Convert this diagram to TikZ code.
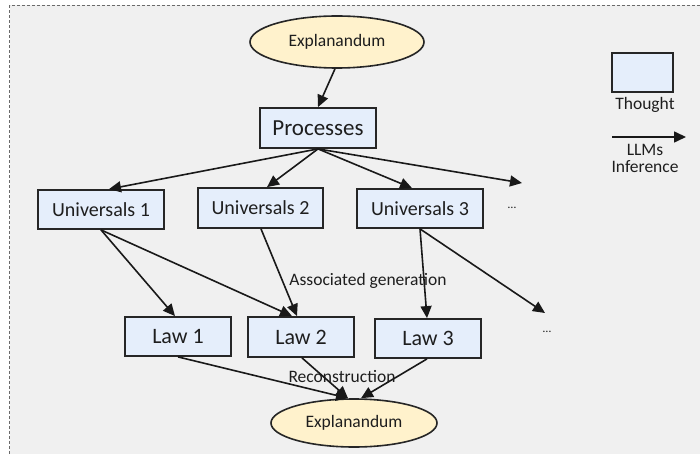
\documentclass[tikz,border=0pt]{standalone}
\usepackage{fontspec}
\setmainfont{Carlito}
\usetikzlibrary{arrows.meta,shapes.geometric}
\definecolor{bgc}{HTML}{F0F0F0}
\definecolor{boxc}{HTML}{E5EEFB}
\definecolor{ellc}{HTML}{FFF2CC}
\definecolor{txtc}{HTML}{1E1E1E}
\definecolor{framec}{HTML}{6A6A6A}
\tikzset{
  thought/.style={draw=black!85, line width=1.8pt, fill=boxc, rectangle, inner sep=0pt, text=txtc},
  expl/.style={draw=black!85, line width=1.6pt, fill=ellc, ellipse, inner sep=0pt, text=txtc, font=\fontsize{17.5}{20}\selectfont},
  infer/.style={line width=1.6pt, black!90, -{Triangle[length=12pt,width=11pt]}},
  lab/.style={text=txtc, inner sep=0pt, font=\fontsize{17.5}{20}\selectfont},
  dots/.style={text=txtc, inner sep=0pt, font=\fontsize{12}{14}\selectfont}
}
\begin{document}
\begin{tikzpicture}[x=1pt,y=-1pt]
\useasboundingbox (0,0) rectangle (700,454);
\clip (0,0) rectangle (700,454);
\fill[white] (0,0) rectangle (700,454);
\draw[framec, line width=1.1pt, dash pattern=on 3pt off 2pt, fill=bgc] (9.5,5.5) rectangle (720,480);

% nodes
\node[expl, minimum width=174pt, minimum height=52pt] (E1) at (337,42) {Explanandum};
\node[thought, minimum width=116pt, minimum height=40pt, font=\fontsize{23}{26}\selectfont] (P) at (318,128) {Processes};
\node[thought, minimum width=126pt, minimum height=39pt, font=\fontsize{20}{23}\selectfont] (U1) at (101,209.5) {Universals 1};
\node[thought, minimum width=125pt, minimum height=40pt, font=\fontsize{20}{23}\selectfont] (U2) at (260.5,208) {Universals 2};
\node[thought, minimum width=126pt, minimum height=39pt, font=\fontsize{20}{23}\selectfont] (U3) at (420,208.5) {Universals 3};
\node[dots] (D1) at (512,208) {…};
\node[thought, minimum width=106pt, minimum height=39pt, font=\fontsize{22}{25}\selectfont] (L1) at (178,336.5) {Law 1};
\node[thought, minimum width=106pt, minimum height=40pt, font=\fontsize{22}{25}\selectfont] (L2) at (301,337) {Law 2};
\node[thought, minimum width=106pt, minimum height=39pt, font=\fontsize{22}{25}\selectfont] (L3) at (428,338.5) {Law 3};
\node[dots] (D2) at (547,332) {…};
\node[expl, minimum width=166pt, minimum height=48pt] (E2) at (354,423) {Explanandum};

\coordinate (PD) at (522,183);
\coordinate (UD) at (545,313);

% legend
\node[thought, minimum width=61pt, minimum height=39pt] (LB) at (642.5,72.5) {};
\node[lab] (LT) at (645,105) {Thought};
\coordinate (LA1) at (612,137);
\coordinate (LA2) at (686,137);
\node[lab, align=center, font=\fontsize{17.5}{17}\selectfont] (LI) at (645,158.5) {LLMs\\Inference};

% connectors
\draw[infer] ([xshift=-2pt]E1.south) -- (P.north);
\draw[infer] (P.south) -- ([xshift=8pt]U1.north);
\draw[infer] (P.south) -- ([xshift=6.5pt]U2.north);
\draw[infer] (P.south) -- ([xshift=-8pt]U3.north);
\draw[infer] (P.south) -- (PD);
\draw[infer] (U1.south) -- ([xshift=-3pt]L1.north);
\draw[infer] (U1.south) -- ([xshift=-9pt]L2.north);
\draw[infer] ([xshift=0.5pt]U2.south) -- ([xshift=-4pt]L2.north);
\draw[infer] (U3.south) -- ([xshift=-1pt]L3.north);
\draw[infer] (U3.south) -- (UD);
\draw[infer] (L1.south) -- ([xshift=-6pt]E2.north);
\draw[infer] ([xshift=1pt]L2.south) -- ([xshift=-6pt]E2.north);
\draw[infer] ([xshift=-1pt]L3.south) -- ([xshift=7pt]E2.north);
\draw[infer] (LA1) -- (LA2);

% labels
\node[lab] (AG) at (368,281) {Associated generation};
\node[lab] (RC) at (342,377) {Reconstruction};
\end{tikzpicture}
\end{document}
